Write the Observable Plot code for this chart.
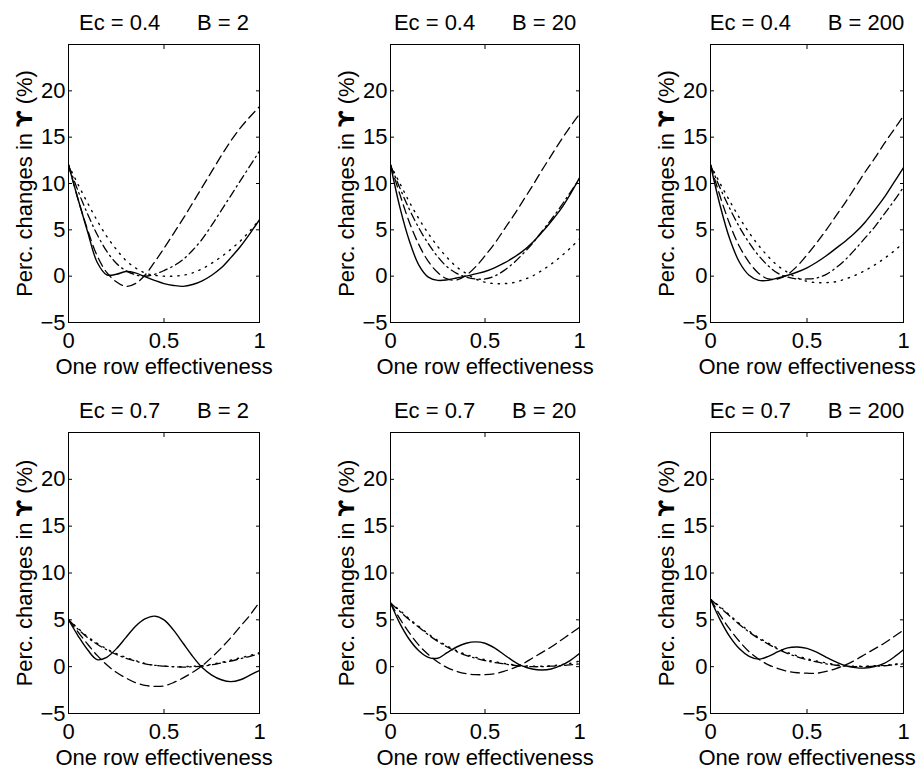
<!DOCTYPE html>
<html><head><meta charset="utf-8">
<script src="https://cdn.jsdelivr.net/npm/d3@7"></script>
<script src="https://cdn.jsdelivr.net/npm/@observablehq/plot@0.6"></script>
<style>
html,body{margin:0;padding:0;background:#fff;}
#chart{position:relative;width:918px;height:773px;background:#fff;overflow:hidden;}
#chart > .cell{position:absolute;}
</style></head><body><div id="chart"></div>
<script>
// ---- data ----
const effectiveness = [0,0.05,0.1,0.15,0.2,0.25,0.3,0.35,0.4,0.45,0.5,0.55,0.6,0.65,0.7,0.75,0.8,0.85,0.9,0.95,1];
const ecValues = [0.4, 0.7];
const bValues = [2, 20, 200];
const xTicks = [0, 0.5, 1];
const yTicks = [-5, 0, 5, 10, 15, 20];
const xLabel = "One row effectiveness";
const yLabel = "Perc. changes in \u03D2 (%)";

// Ec = 0.4, B = 2
const ec04b2Solid   = [12, 8.3, 4.8, 1.5, 0.15, 0.2, 0.5, 0.35, -0.05, -0.45, -0.8, -1.0, -1.1, -0.9, -0.5, 0.1, 0.9, 2.0, 3.2, 4.6, 6.1];
const ec04b2Dashed  = [12, 8.3, 5.0, 2.2, 0.4, -0.6, -1.1, -0.8, 0.1, 1.5, 3.0, 4.6, 6.2, 7.9, 9.6, 11.3, 13.0, 14.6, 16.0, 17.2, 18.3];
const ec04b2DashDot = [12, 9.2, 6.7, 4.5, 2.7, 1.4, 0.6, 0.15, 0, 0.2, 0.6, 1.1, 1.8, 2.8, 4.0, 5.5, 7.1, 8.7, 10.3, 11.9, 13.5];
const ec04b2Dotted  = [12, 9.9, 7.9, 6.0, 4.3, 2.9, 1.7, 0.9, 0.35, 0.1, 0.0, 0.0, 0.1, 0.35, 0.8, 1.4, 2.1, 2.9, 3.8, 4.9, 6.1];
// Ec = 0.4, B = 20
const ec04b20Solid   = [12, 7.4, 3.8, 1.2, -0.1, -0.45, -0.4, -0.2, 0, 0.25, 0.5, 0.9, 1.4, 2.0, 2.7, 3.6, 4.7, 5.9, 7.2, 8.8, 10.6];
const ec04b20Dashed  = [12, 8.8, 5.8, 3.4, 1.6, 0.4, -0.3, -0.4, 0.1, 1.0, 2.2, 3.5, 5.0, 6.5, 8.1, 9.7, 11.4, 13.0, 14.6, 16.1, 17.5];
const ec04b20DashDot = [12, 9.5, 7.2, 5.2, 3.5, 2.1, 1.0, 0.3, -0.1, -0.3, -0.3, 0, 0.6, 1.4, 2.4, 3.5, 4.8, 6.1, 7.5, 9.0, 10.5];
const ec04b20Dotted  = [12, 10, 8, 6.2, 4.6, 3.2, 2.0, 1.0, 0.3, -0.3, -0.65, -0.8, -0.8, -0.7, -0.4, 0, 0.6, 1.3, 2.1, 3.0, 4.0];
// Ec = 0.4, B = 200
const ec04b200Solid   = [12, 7.6, 4.0, 1.5, 0.1, -0.45, -0.45, -0.2, 0.1, 0.45, 0.9, 1.5, 2.2, 3.0, 3.8, 4.7, 5.8, 7.1, 8.5, 10.1, 11.7];
const ec04b200Dashed  = [12, 8.6, 5.6, 3.2, 1.5, 0.3, -0.3, -0.3, 0.2, 1.1, 2.3, 3.6, 5.0, 6.5, 8.0, 9.6, 11.2, 12.7, 14.3, 15.8, 17.3];
const ec04b200DashDot = [12, 9.5, 7.3, 5.3, 3.6, 2.2, 1.1, 0.3, -0.1, -0.3, -0.3, -0.2, 0.2, 0.9, 1.8, 2.9, 4.1, 5.3, 6.7, 8.1, 9.6];
const ec04b200Dotted  = [12, 10, 8.1, 6.3, 4.7, 3.3, 2.1, 1.1, 0.4, -0.2, -0.55, -0.7, -0.7, -0.6, -0.3, 0.1, 0.6, 1.2, 1.9, 2.7, 3.6];
// Ec = 0.7, B = 2
const ec07b2Solid   = [5, 3.3, 1.8, 0.75, 1.0, 1.9, 3.1, 4.3, 5.1, 5.4, 5.0, 3.9, 2.5, 1.1, -0.1, -0.9, -1.4, -1.6, -1.4, -0.9, -0.4];
const ec07b2Dashed  = [5, 3.7, 2.4, 1.2, 0.2, -0.6, -1.2, -1.7, -2.0, -2.1, -2.05, -1.7, -1.2, -0.6, 0.1, 1.0, 2.0, 3.1, 4.3, 5.5, 6.9];
const ec07b2DashDot = [5, 4.0, 3.1, 2.4, 1.8, 1.3, 0.9, 0.6, 0.3, 0.15, 0.05, 0, -0.05, 0, 0.05, 0.2, 0.4, 0.6, 0.85, 1.1, 1.4];
const ec07b2Dotted  = [5, 4.1, 3.2, 2.5, 1.9, 1.4, 1.0, 0.65, 0.35, 0.15, 0.05, 0, 0, 0.05, 0.1, 0.25, 0.45, 0.7, 0.95, 1.2, 1.5];
// Ec = 0.7, B = 20
const ec07b20Solid   = [6.8, 4.6, 2.9, 1.7, 1.0, 0.9, 1.5, 2.1, 2.5, 2.65, 2.5, 2.0, 1.3, 0.6, 0.05, -0.25, -0.35, -0.25, 0.1, 0.65, 1.4];
const ec07b20Dashed  = [6.8, 5.1, 3.6, 2.3, 1.3, 0.5, -0.1, -0.5, -0.75, -0.85, -0.85, -0.75, -0.5, -0.15, 0.3, 0.9, 1.5, 2.1, 2.8, 3.5, 4.2];
const ec07b20DashDot = [6.8, 5.9, 5.0, 4.2, 3.4, 2.7, 2.1, 1.6, 1.2, 0.9, 0.65, 0.45, 0.3, 0.15, 0.05, 0, 0, 0.05, 0.1, 0.2, 0.3];
const ec07b20Dotted  = [6.8, 6.0, 5.1, 4.3, 3.5, 2.8, 2.2, 1.7, 1.3, 1.0, 0.75, 0.55, 0.35, 0.2, 0.1, 0.05, 0.05, 0.1, 0.2, 0.35, 0.6];
// Ec = 0.7, B = 200
const ec07b200Solid   = [7.2, 5.0, 3.2, 1.9, 1.1, 0.8, 1.1, 1.6, 2.0, 2.1, 1.95, 1.55, 1.0, 0.5, 0.1, -0.1, -0.15, 0, 0.35, 1.0, 1.8];
const ec07b200Dashed  = [7.2, 5.5, 4.0, 2.7, 1.6, 0.8, 0.2, -0.2, -0.5, -0.65, -0.7, -0.7, -0.5, -0.2, 0.2, 0.7, 1.3, 1.9, 2.5, 3.2, 3.9];
const ec07b200DashDot = [7.2, 6.3, 5.4, 4.5, 3.7, 3.0, 2.4, 1.85, 1.4, 1.05, 0.75, 0.5, 0.3, 0.15, 0.05, 0, 0, 0.05, 0.1, 0.2, 0.3];
const ec07b200Dotted  = [7.2, 6.4, 5.5, 4.6, 3.8, 3.1, 2.5, 1.95, 1.5, 1.15, 0.85, 0.6, 0.4, 0.2, 0.1, 0.05, 0.05, 0.1, 0.15, 0.25, 0.4];

const panelSeries = [
  [ec04b2Solid, ec04b2Dashed, ec04b2DashDot, ec04b2Dotted],
  [ec04b20Solid, ec04b20Dashed, ec04b20DashDot, ec04b20Dotted],
  [ec04b200Solid, ec04b200Dashed, ec04b200DashDot, ec04b200Dotted],
  [ec07b2Solid, ec07b2Dashed, ec07b2DashDot, ec07b2Dotted],
  [ec07b20Solid, ec07b20Dashed, ec07b20DashDot, ec07b20Dotted],
  [ec07b200Solid, ec07b200Dashed, ec07b200DashDot, ec07b200Dotted]
];

// ---- styles & layout ----
const lineStyles = [
  {dash: null, width: 1.4},
  {dash: "9,5", width: 1.3},
  {dash: "8,4,1.5,4", width: 1.3},
  {dash: "1.3,6", width: 1.4}
];
const frameLefts = [68, 390, 710];
const frameWidths = [191, 189, 193];
const frameTops = [44, 432];
const frameHeights = [278, 281];
const ML = 68, MT = 44, MR = 8, MB = 58;
const font = "'Liberation Sans', Arial, Helvetica, sans-serif";
const fmtY = d => d < 0 ? "\u2212" + Math.abs(d) : String(d);
const fmtX = d => String(d);
const blank = () => "";
const SVGNS = "http://www.w3.org/2000/svg";

function styleGreekGlyph(svg) {
  svg.querySelectorAll("text").forEach(t => {
    if (t.children.length === 0 && t.textContent.includes("\u03D2")) {
      const [before, after] = t.textContent.split("\u03D2");
      t.textContent = "";
      t.appendChild(document.createTextNode(before));
      const ts = document.createElementNS(SVGNS, "tspan");
      ts.setAttribute("font-family", "'DejaVu Sans', sans-serif");
      ts.setAttribute("font-weight", "bold");
      ts.textContent = "\u03D2";
      t.appendChild(ts);
      t.appendChild(document.createTextNode(after));
    }
  });
}

const chart = document.getElementById("chart");
panelSeries.forEach((series, p) => {
  const row = Math.floor(p / 3), col = p % 3;
  const w = frameWidths[col], h = frameHeights[row];
  const title = `Ec = ${ecValues[row]}\u00a0\u00a0\u00a0\u00a0\u00a0\u00a0B = ${bValues[col]}`;
  const lines = series.map((vals, s) => Plot.line(
    effectiveness.map((x, i) => ({x, y: vals[i]})),
    {x: "x", y: "y", stroke: "black", strokeWidth: lineStyles[s].width,
     strokeDasharray: lineStyles[s].dash, curve: "catmull-rom", clip: true}
  ));
  const svg = Plot.plot({
    width: ML + w + MR, height: MT + h + MB,
    marginLeft: ML, marginTop: MT, marginRight: MR, marginBottom: MB,
    x: {domain: [0, 1]},
    y: {domain: [-5, 25]},
    style: {fontFamily: font, fontSize: "22px", color: "black", background: "white", overflow: "visible"},
    marks: [
      ...lines,
      Plot.frame({stroke: "black", strokeWidth: 1}),
      Plot.axisY(yTicks, {anchor: "left", tickSize: 0, tickPadding: 3, tickFormat: fmtY, label: null, fontSize: 22}),
      Plot.axisY(yTicks, {anchor: "left", tickSize: 4, insetLeft: 4, tickFormat: blank, label: null}),
      Plot.axisY(yTicks, {anchor: "right", tickSize: 4, insetRight: 4, tickFormat: blank, label: null}),
      Plot.axisX(xTicks, {anchor: "bottom", tickSize: 0, tickPadding: 10, tickFormat: fmtX, label: null, fontSize: 22}),
      Plot.axisX(xTicks, {anchor: "bottom", tickSize: 4, insetBottom: 4, tickFormat: blank, label: null}),
      Plot.axisX(xTicks, {anchor: "top", tickSize: 4, insetTop: 4, tickFormat: blank, label: null}),
      Plot.text([title], {text: d => d, frameAnchor: "top", dy: -15, lineAnchor: "bottom", fontSize: 22, fill: "black"}),
      Plot.text([xLabel], {text: d => d, frameAnchor: "bottom", dy: 51, lineAnchor: "bottom", fontSize: 22, fill: "black"}),
      Plot.text([yLabel], {text: d => d, frameAnchor: "left", textAnchor: "middle", rotate: -90, dx: -37, lineAnchor: "bottom", fontSize: 22, fill: "black"})
    ]
  });
  styleGreekGlyph(svg);
  const cell = document.createElement("div");
  cell.className = "cell";
  cell.style.left = (frameLefts[col] - ML) + "px";
  cell.style.top = (frameTops[row] - MT) + "px";
  cell.appendChild(svg);
  chart.appendChild(cell);
});
</script>
</body></html>
